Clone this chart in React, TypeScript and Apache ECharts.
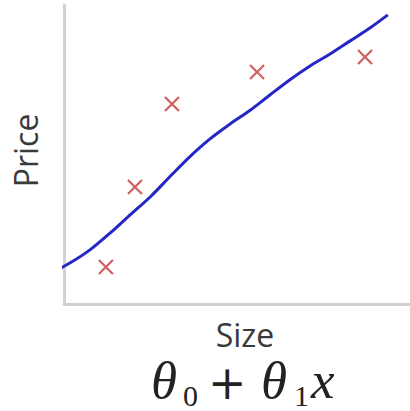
import React, { useEffect, useRef } from "react";
import * as echarts from "echarts";

// Housing data (Size vs Price) in arbitrary units 0..100
const sizes = [12.1, 20.5, 31.2, 55.8, 87.0];
const prices = [12.4, 39.1, 66.9, 77.6, 82.6];

// Hand-drawn hypothesis line h(x) = θ0 + θ1 x
const lineX = [-3.2, 1.7, 7.5, 13.3, 19.1, 24.9, 31.2, 36.4, 42.2, 48.0, 53.8, 59.5, 65.3, 71.1, 76.9, 82.7, 88.4, 93.6];
const lineY = [10.7, 13.7, 18.1, 23.7, 29.8, 35.8, 43.3, 49.3, 55.2, 60.2, 64.8, 69.9, 75.0, 79.6, 83.6, 88.0, 92.3, 96.7];

const xLabel = "Size";
const yLabel = "Price";

export default function App() {
  const ref = useRef<HTMLDivElement>(null);
  useEffect(() => {
    if (!ref.current) return;
    const chart = echarts.init(ref.current, null, { renderer: "svg" });
    const axisCommon = {
      type: "value" as const,
      min: 0,
      max: 100,
      axisLine: { show: true, onZero: false, lineStyle: { color: "#d2d2d2", width: 3 } },
      axisTick: { show: false },
      axisLabel: { show: false },
      splitLine: { show: false },
    };
    const nameStyle = { fontFamily: "Open Sans", fontSize: 32, color: "#3a3a3a" };
    const serif = "'Liberation Serif'";
    chart.setOption({
      animation: false,
      backgroundColor: "#ffffff",
      grid: { left: 64, right: 0, top: 5, bottom: 107, containLabel: false },
      xAxis: {
        ...axisCommon,
        name: xLabel,
        nameLocation: "middle",
        nameGap: 13,
        nameTextStyle: { ...nameStyle, lineHeight: 34, padding: [0, 0, 0, 16] },
      },
      yAxis: {
        ...axisCommon,
        name: yLabel,
        nameLocation: "middle",
        nameGap: 23,
        nameTextStyle: { ...nameStyle, padding: [0, 0, 0, 8] },
      },
      series: [
        {
          type: "line",
          data: lineX.map((x, i) => [x, lineY[i]]),
          smooth: 0.3,
          showSymbol: false,
          symbol: "none",
          clip: false,
          lineStyle: { color: "#2626c4", width: 3 },
          z: 2,
        },
        {
          type: "scatter",
          data: sizes.map((x, i) => [x, prices[i]]),
          symbol: "path://M0,0L10,10M10,0L0,10",
          symbolSize: 14,
          itemStyle: { color: "transparent", borderColor: "#c43838", borderWidth: 2.2 },
          z: 3,
        },
      ],
      graphic: [
        {
          type: "group",
          children: [
            { type: "text", x: 151, y: 380, style: { text: "θ", font: `italic 53px ${serif}`, lineHeight: 40, fill: "#222", verticalAlign: "middle" } },
            { type: "text", x: 183, y: 395, style: { text: "0", font: `30px ${serif}`, lineHeight: 28, fill: "#222", verticalAlign: "middle" } },
            { type: "text", x: 208, y: 382.5, style: { text: "+", font: `46px 'DejaVu Serif'`, lineHeight: 40, fill: "#222", verticalAlign: "middle" } },
            { type: "text", x: 261, y: 380, style: { text: "θ", font: `italic 53px ${serif}`, lineHeight: 40, fill: "#222", verticalAlign: "middle" } },
            { type: "text", x: 294, y: 395, style: { text: "1", font: `30px ${serif}`, lineHeight: 28, fill: "#222", verticalAlign: "middle" } },
            { type: "text", x: 311, y: 380, style: { text: "x", font: `italic 53px ${serif}`, lineHeight: 40, fill: "#222", verticalAlign: "middle" } },
          ],
        },
      ],
    });
    return () => chart.dispose();
  }, []);
  return <div ref={ref} style={{ width: 410, height: 411, position: "absolute", left: 0, top: 0 }} />;
}
